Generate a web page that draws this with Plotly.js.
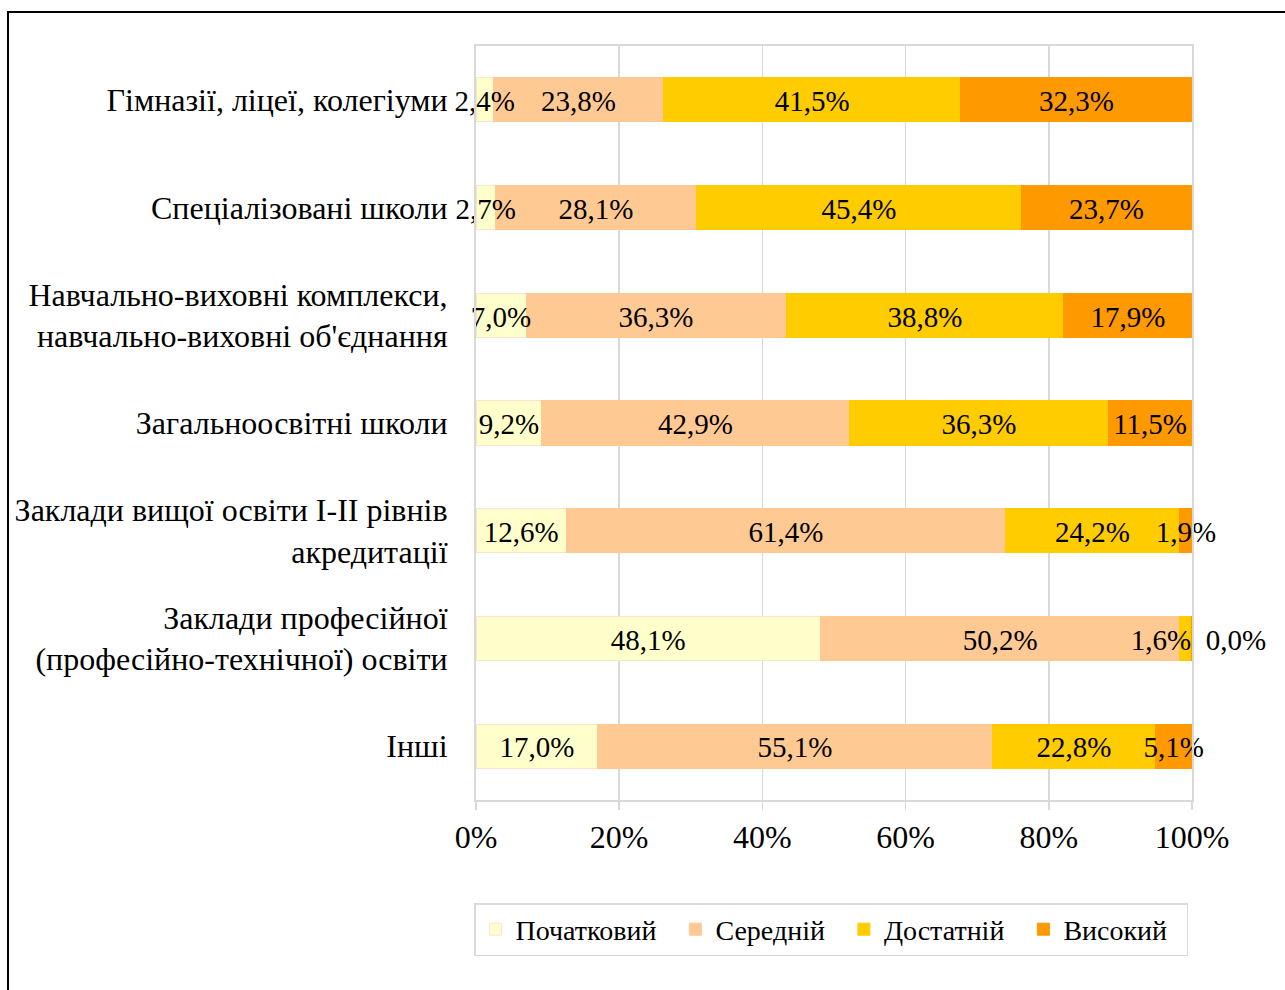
<!DOCTYPE html>
<html>
<head>
<meta charset="utf-8">
<script src="https://cdn.plot.ly/plotly-3.0.1.min.js"></script>
<style>
html,body{margin:0;padding:0;background:#fff;}
#chart{width:1285px;height:990px;}
</style>
</head>
<body>
<div id="chart"></div>
<script>
const categories = [
  "Гімназії, ліцеї, колегіуми",
  "Спеціалізовані школи",
  "Навчально-виховні комплекси,<br>навчально-виховні об'єднання",
  "Загальноосвітні школи",
  "Заклади вищої освіти І-ІІ рівнів<br>акредитації",
  "Заклади професійної<br>(професійно-технічної) освіти",
  "Інші"
];
const seriesNames = ["Початковий", "Середній", "Достатній", "Високий"];
const pochatkovyi = [2.4, 2.7, 7.0, 9.2, 12.6, 48.1, 17.0];
const serednii   = [23.8, 28.1, 36.3, 42.9, 61.4, 50.2, 55.1];
const dostatnii  = [41.5, 45.4, 38.8, 36.3, 24.2, 1.6, 22.8];
const vysokyi    = [32.3, 23.7, 17.9, 11.5, 1.9, 0.0, 5.1];
const xTickVals = [0, 20, 40, 60, 80, 100];
const xTickText = ["0%", "20%", "40%", "60%", "80%", "100%"];

const colors = ["#ffffcc", "#ffc994", "#ffcc00", "#ff9900"];
const lineColors = ["#fde3cf", "#ffc994", "#ffcc00", "#ff9900"];
const serif = "Liberation Serif";

function fmt(v){ return v.toFixed(1).replace('.', ',') + '%'; }

const allSeries = [pochatkovyi, serednii, dostatnii, vysokyi];
const traces = allSeries.map((vals, i) => ({
  type: 'bar',
  orientation: 'h',
  name: seriesNames[i] + '\u00a0\u00a0',
  y: categories,
  x: vals,
  marker: {color: colors[i], line: {color: lineColors[i], width: 1}},
  hoverinfo: 'none'
}));

// data labels, centred on each stacked segment (positions derived from the data)
const cum = categories.map(() => 0);
allSeries.forEach((vals, si) => {
  const next = allSeries[si + 1];
  const xs = [], ys = [], ts = [], pos = [];
  vals.forEach((v, j) => {
    ys.push(categories[j]);
    if (v === 0) {
      ts.push('\u00a0\u00a0' + fmt(v));
      xs.push(cum[j]);
      pos.push('middle right');
    } else if (next && next[j] === 0) {
      ts.push(fmt(v));
      xs.push(cum[j] + v);
      pos.push('middle left');
    } else {
      ts.push(fmt(v));
      xs.push(cum[j] + v / 2);
      pos.push('middle center');
    }
    cum[j] += v;
  });
  traces.push({
    type: 'scatter',
    mode: 'text',
    x: xs, y: ys,
    yaxis: 'y2',
    text: ts,
    textposition: pos,
    textfont: {family: serif, size: 29, color: '#000'},
    cliponaxis: false,
    showlegend: false,
    hoverinfo: 'none'
  });
});

const L = 476, R = 1192, T = 46, B = 800;
const W = R - L, H = B - T;
function px2x(p){ return (p - L) / W; }
function py2y(p){ return (B - p) / H; }
const n = categories.length;
const shift = 4 / (H / n);

const layout = {
  width: 1285,
  height: 990,
  margin: {l: L, r: 1285 - R, t: T, b: 990 - B, pad: 0, autoexpand: false},
  paper_bgcolor: '#fff',
  plot_bgcolor: '#fff',
  barmode: 'stack',
  bargap: 0.59,
  showlegend: true,
  font: {family: serif, color: '#000'},
  xaxis: {
    range: [0, 100],
    tickvals: xTickVals,
    ticktext: xTickText,
    tickfont: {family: serif, size: 32, color: '#000'},
    showgrid: true,
    gridcolor: '#d9d9d9',
    gridwidth: 1.5,
    zeroline: false,
    showline: true,
    linecolor: '#d9d9d9',
    linewidth: 2,
    mirror: true,
    ticks: 'outside',
    ticklen: 8,
    tickcolor: '#d9d9d9',
    tickwidth: 1.5,
    ticklabelstandoff: 0,
    fixedrange: true
  },
  yaxis: {
    type: 'category',
    categoryarray: categories,
    range: [n - 0.5, -0.5],
    tickfont: {family: serif, size: 32, color: '#000'},
    showgrid: false,
    zeroline: false,
    showline: true,
    linecolor: '#d9d9d9',
    linewidth: 2,
    mirror: true,
    ticks: '',
    ticklabelstandoff: 20,
    fixedrange: true
  },
  yaxis2: {
    type: 'category',
    categoryarray: categories,
    overlaying: 'y',
    range: [n - 0.5 - shift, -0.5 - shift],
    visible: false,
    showgrid: false,
    zeroline: false,
    fixedrange: true
  },
  legend: {
    orientation: 'h',
    x: px2x(831),
    xanchor: 'center',
    y: py2y(903),
    yanchor: 'top',
    bordercolor: '#d9d9d9',
    borderwidth: 1.5,
    bgcolor: '#fff',
    traceorder: 'normal',
    font: {family: serif, size: 28, color: '#000'}
  },
  shapes: [{
    type: 'rect',
    xref: 'paper', yref: 'paper',
    x0: px2x(8), x1: px2x(1300),
    y0: py2y(1005), y1: py2y(12),
    line: {color: '#000', width: 2},
    fillcolor: 'rgba(0,0,0,0)',
    layer: 'below'
  }]
};

Plotly.newPlot('chart', traces, layout, {staticPlot: true, displayModeBar: false});
</script>
</body>
</html>
